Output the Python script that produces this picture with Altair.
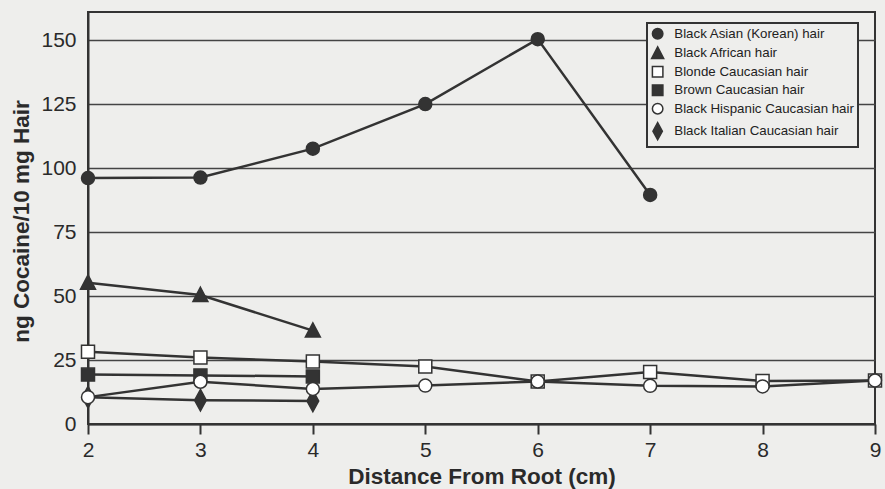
import altair as alt
import pandas as pd

series_names = [
    "Black Asian (Korean) hair",
    "Black African hair",
    "Blonde Caucasian hair",
    "Brown Caucasian hair",
    "Black Hispanic Caucasian hair",
    "Black Italian Caucasian hair",
]

korean_x = [2, 3, 4, 5, 6, 7]
korean_y = [96.1, 96.3, 107.6, 125.0, 150.4, 89.5]

african_x = [2, 3, 4]
african_y = [55.2, 50.4, 36.5]

blonde_x = [2, 3, 4, 5, 6, 7, 8, 9]
blonde_y = [28.2, 26.0, 24.4, 22.5, 16.6, 20.3, 16.8, 17.0]

brown_x = [2, 3, 4]
brown_y = [19.3, 19.0, 18.6]

hispanic_x = [2, 3, 4, 5, 6, 7, 8, 9]
hispanic_y = [10.5, 16.5, 13.7, 15.0, 16.6, 14.9, 14.7, 17.0]

italian_x = [2, 3, 4]
italian_y = [10.5, 9.3, 9.0]

y_ticks = [0, 25, 50, 75, 100, 125, 150]
x_ticks = [2, 3, 4, 5, 6, 7, 8, 9]

rows = []
for name, xs, ys in [
    (series_names[0], korean_x, korean_y),
    (series_names[1], african_x, african_y),
    (series_names[3], brown_x, brown_y),
    (series_names[2], blonde_x, blonde_y),
    (series_names[5], italian_x, italian_y),
    (series_names[4], hispanic_x, hispanic_y),
]:
    for xv, yv in zip(xs, ys):
        rows.append({"series": name, "dist": xv, "value": yv})
df = pd.DataFrame(rows)

INK = "#333333"
BG = "#eeeeec"

triangle = "M0,-1.2L1.15,1L-1.15,1Z"
diamond = "M0,-1.65L0.9,0L0,1.65L-0.9,0Z"
shape_range = ["circle", triangle, "square", "square", "circle", diamond]
fill_range = [INK, INK, "white", INK, "white", INK]
stroke_range = [INK] * 6

x_enc = alt.X(
    "dist:Q",
    scale=alt.Scale(domain=[2, 9], nice=False, zero=False),
    axis=alt.Axis(
        values=x_ticks,
        grid=False,
        format="d",
        ticks=True,
        tickSize=10,
        tickWidth=2,
        tickColor=INK,
        labelFlush=False,
        labelBaseline="alphabetic",
        labelPadding=22,
        title="Distance From Root (cm)",
        titleBaseline="alphabetic",
        titleY=59,
    ),
)
y_enc = alt.Y(
    "value:Q",
    scale=alt.Scale(domain=[0, 161], nice=False),
    axis=alt.Axis(
        values=y_ticks,
        grid=True,
        gridColor="#444444",
        gridWidth=1.5,
        ticks=False,
        tickSize=0,
        labelPadding=12,
        title="ng Cocaine/10 mg Hair",
        titleX=-60,
        titleY=209,
        titleAngle=-90,
        titleAlign="center",
        titleBaseline="alphabetic",
    ),
)

legend = alt.Legend(
    title=None,
    orient="none",
    legendX=559,
    legendY=11,
    labelLimit=300,
)

lines = alt.Chart(df).mark_line(color=INK, strokeWidth=2.5).encode(
    x=x_enc,
    y=y_enc,
    detail="series:N",
    order="dist:Q",
)

points = alt.Chart(df).mark_point(
    filled=True, size=169, strokeWidth=1.5, opacity=1
).encode(
    x=x_enc,
    y=y_enc,
    stroke=alt.Stroke(
        "series:N",
        scale=alt.Scale(domain=series_names, range=stroke_range),
        legend=legend,
    ),
    shape=alt.Shape(
        "series:N",
        scale=alt.Scale(domain=series_names, range=shape_range),
        legend=legend,
    ),
    fill=alt.Fill(
        "series:N",
        scale=alt.Scale(domain=series_names, range=fill_range),
        legend=legend,
    ),
)

chart = (
    alt.layer(lines, points)
    .properties(
        width=787,
        height=412,
        padding={"left": 88, "top": 12, "right": 10, "bottom": 65},
        autosize=alt.AutoSizeParams(type="none"),
        background=BG,
    )
    .configure_view(stroke=INK, strokeWidth=2)
    .configure_axis(
        domainColor=INK,
        domainWidth=2,
        labelFont="Liberation Sans",
        labelFontSize=21,
        labelColor="#2a2a2a",
        titleFont="Liberation Sans",
        titleFontSize=22.5,
        titleFontWeight="bold",
        titleColor="#2a2a2a",
    )
    .configure_legend(
        fillColor=BG,
        strokeColor=INK,
        strokeWidth=2,
        padding=4,
        rowPadding=1.5,
        symbolSize=110,
        symbolStrokeWidth=1.5,
        labelFont="Liberation Sans",
        labelFontSize=13.3,
        labelColor="#222222",
        labelOffset=10,
    )
)

chart.save("out.html", embed_options={"renderer": "svg", "actions": False})
